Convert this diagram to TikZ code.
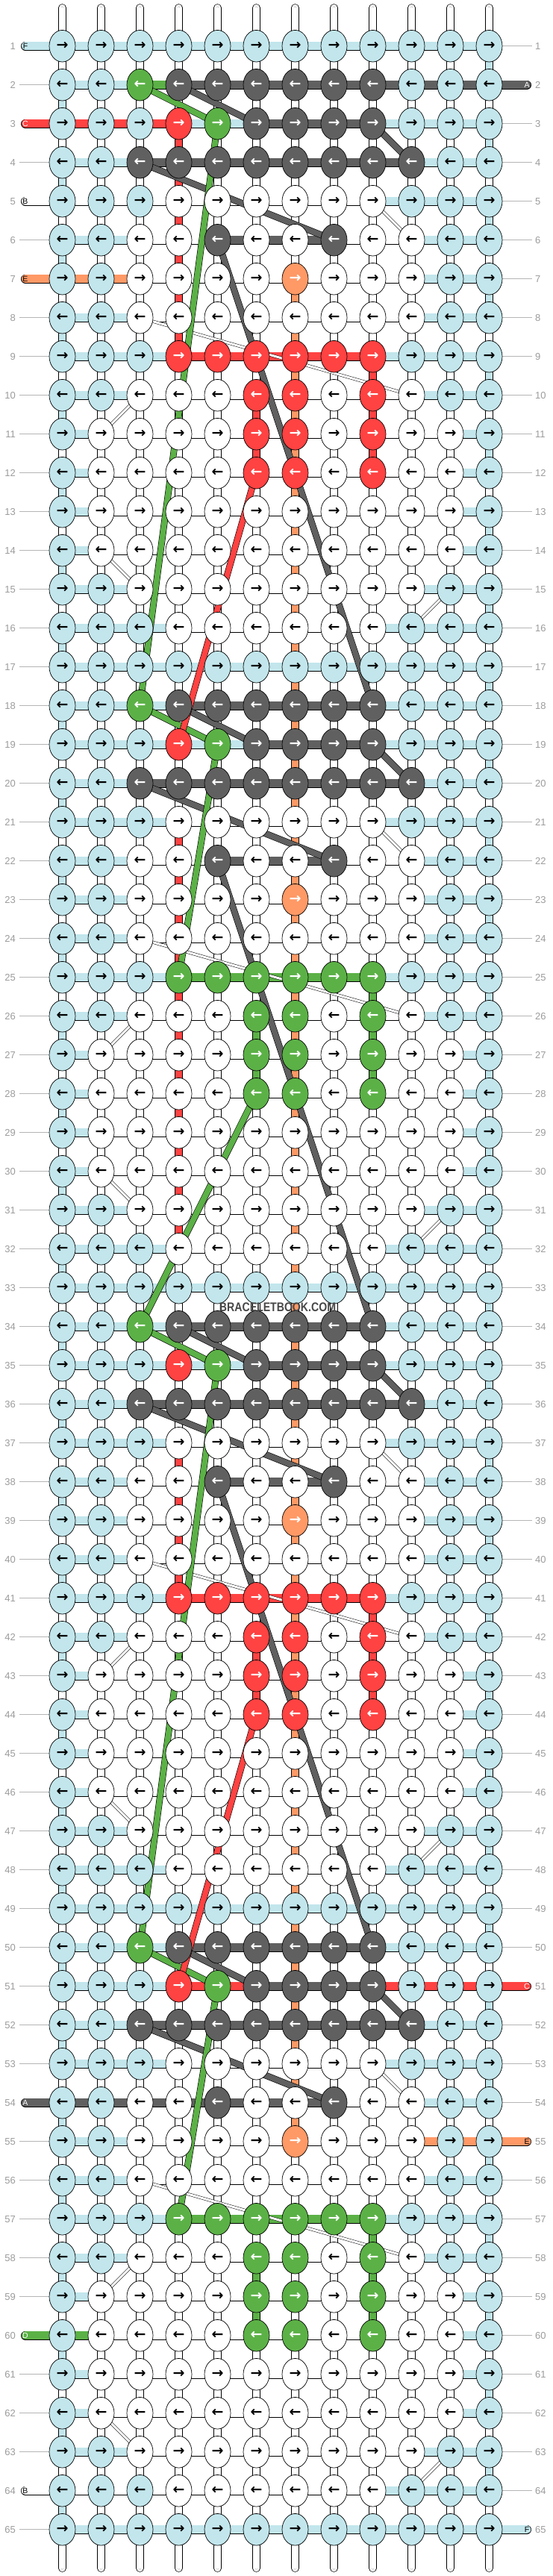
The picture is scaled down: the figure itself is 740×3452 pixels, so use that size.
\documentclass[tikz,border=0pt]{standalone}
\usepackage{fontspec}
\setmainfont{Liberation Sans}
\newfontfamily\arrfont{DejaVu Sans}
\usetikzlibrary{shapes.geometric}
\definecolor{cb}{HTML}{C2E6EC}
\definecolor{cw}{HTML}{FFFFFF}
\definecolor{cg}{HTML}{606060}
\definecolor{cr}{HTML}{FF4242}
\definecolor{cn}{HTML}{5BB146}
\definecolor{co}{HTML}{FF9966}
\definecolor{lab}{HTML}{9C9C9C}
\pgfdeclarelayer{bglayer}
\pgfdeclarelayer{linklayer}
\pgfdeclarelayer{bandlayer}
\pgfdeclarelayer{toplayer}
\pgfsetlayers{bglayer,linklayer,bandlayer,main,toplayer}
\tikzset{
 knot/.style={ellipse, draw=black, line width=0.7pt, minimum width=35pt, minimum height=42.6pt, inner sep=0pt, font=\arrfont\bfseries\fontsize{19}{19}\selectfont},
 kb/.style={fill=cb,text=black},
 kw/.style={fill=white,text=black},
 kg/.style={fill=cg,text=white},
 kr/.style={fill=cr,text=white},
 kn/.style={fill=cn,text=white},
 ko/.style={fill=co,text=white},
 hlink/.style={draw=black, line width=0.7pt, double distance=10.6pt},
 vlink/.style={draw=black, line width=0.7pt, double distance=9.2pt},
 warpin/.style={draw=gray!70, line width=0.45pt, double=white, double distance=3pt},
 band/.style={draw=black, line width=0.6pt, double distance=7.6pt},
 thinband/.style={draw=black, line width=0.5pt, double=white, double distance=3pt},
 rownum/.style={text=lab, font=\fontsize{13}{13}\selectfont, inner sep=0pt},
 edgelbl/.style={font=\fontsize{10.5}{10.5}\selectfont, inner sep=0pt},
 greyline/.style={draw=lab!75, line width=0.8pt},
}
\newcommand\vlinkc[3]{\pgfmathtruncatemacro\rn{#1+1}\draw[vlink,double=c#3] (k-#1-#2.center) -- (k-\rn-#2.center);}
\def\rowdata{%
1/{b,b,b,b,b,b,b,b,b,b,b,b}/{b,b,b,b,b,b,b,b,b,b,b},%
2/{b,b,n,g,g,g,g,g,g,b,b,b}/{b,b,n,g,g,g,g,g,g,g,g},%
3/{b,b,b,r,n,g,g,g,g,b,b,b}/{r,r,r,b,b,g,g,g,b,b,b},%
4/{b,b,g,g,g,g,g,g,g,g,b,b}/{b,b,g,g,g,g,g,g,g,b,b},%
5/{b,b,b,w,w,w,w,w,w,b,b,b}/{w,w,w,w,w,w,w,w,b,b,b},%
6/{b,b,w,w,g,w,w,g,w,w,b,b}/{b,b,w,w,g,g,g,w,w,b,b},%
7/{b,b,w,w,w,w,o,w,w,w,b,b}/{o,o,w,w,w,w,w,w,w,b,b},%
8/{b,b,w,w,w,w,w,w,w,w,b,b}/{b,b,w,w,w,w,w,w,w,b,b},%
9/{b,b,b,r,r,r,r,r,r,b,b,b}/{b,b,b,r,r,r,r,r,b,b,b},%
10/{b,b,w,w,w,r,r,w,r,w,b,b}/{b,b,w,w,w,w,w,w,w,b,b},%
11/{b,w,w,w,w,r,r,w,r,w,w,b}/{b,w,w,w,w,w,w,w,w,w,b},%
12/{b,w,w,w,w,r,r,w,r,w,w,b}/{b,w,w,w,w,w,w,w,w,w,b},%
13/{b,w,w,w,w,w,w,w,w,w,w,b}/{b,w,w,w,w,w,w,w,w,w,b},%
14/{b,w,w,w,w,w,w,w,w,w,w,b}/{b,w,w,w,w,w,w,w,w,w,b},%
15/{b,b,w,w,w,w,w,w,w,w,b,b}/{b,b,w,w,w,w,w,w,w,b,b},%
16/{b,b,b,w,w,w,w,w,w,b,b,b}/{b,b,b,w,w,w,w,w,b,b,b},%
17/{b,b,b,b,b,b,b,b,b,b,b,b}/{b,b,b,b,b,b,b,b,b,b,b},%
18/{b,b,n,g,g,g,g,g,g,b,b,b}/{b,b,b,g,g,g,g,g,b,b,b},%
19/{b,b,b,r,n,g,g,g,g,b,b,b}/{b,b,b,b,b,g,g,g,b,b,b},%
20/{b,b,g,g,g,g,g,g,g,g,b,b}/{b,b,g,g,g,g,g,g,g,b,b},%
21/{b,b,b,w,w,w,w,w,w,b,b,b}/{b,b,b,w,w,w,w,w,b,b,b},%
22/{b,b,w,w,g,w,w,g,w,w,b,b}/{b,b,w,w,g,g,g,w,w,b,b},%
23/{b,b,w,w,w,w,o,w,w,w,b,b}/{b,b,w,w,w,w,w,w,w,b,b},%
24/{b,b,w,w,w,w,w,w,w,w,b,b}/{b,b,w,w,w,w,w,w,w,b,b},%
25/{b,b,b,n,n,n,n,n,n,b,b,b}/{b,b,b,n,n,n,n,n,b,b,b},%
26/{b,b,w,w,w,n,n,w,n,w,b,b}/{b,b,w,w,w,w,w,w,w,b,b},%
27/{b,w,w,w,w,n,n,w,n,w,w,b}/{b,w,w,w,w,w,w,w,w,w,b},%
28/{b,w,w,w,w,n,n,w,n,w,w,b}/{b,w,w,w,w,w,w,w,w,w,b},%
29/{b,w,w,w,w,w,w,w,w,w,w,b}/{b,w,w,w,w,w,w,w,w,w,b},%
30/{b,w,w,w,w,w,w,w,w,w,w,b}/{b,w,w,w,w,w,w,w,w,w,b},%
31/{b,b,w,w,w,w,w,w,w,w,b,b}/{b,b,w,w,w,w,w,w,w,b,b},%
32/{b,b,b,w,w,w,w,w,w,b,b,b}/{b,b,b,w,w,w,w,w,b,b,b},%
33/{b,b,b,b,b,b,b,b,b,b,b,b}/{b,b,b,b,b,b,b,b,b,b,b},%
34/{b,b,n,g,g,g,g,g,g,b,b,b}/{b,b,b,g,g,g,g,g,b,b,b},%
35/{b,b,b,r,n,g,g,g,g,b,b,b}/{b,b,b,b,b,g,g,g,b,b,b},%
36/{b,b,g,g,g,g,g,g,g,g,b,b}/{b,b,g,g,g,g,g,g,g,b,b},%
37/{b,b,b,w,w,w,w,w,w,b,b,b}/{b,b,b,w,w,w,w,w,b,b,b},%
38/{b,b,w,w,g,w,w,g,w,w,b,b}/{b,b,w,w,g,g,g,w,w,b,b},%
39/{b,b,w,w,w,w,o,w,w,w,b,b}/{b,b,w,w,w,w,w,w,w,b,b},%
40/{b,b,w,w,w,w,w,w,w,w,b,b}/{b,b,w,w,w,w,w,w,w,b,b},%
41/{b,b,b,r,r,r,r,r,r,b,b,b}/{b,b,b,r,r,r,r,r,b,b,b},%
42/{b,b,w,w,w,r,r,w,r,w,b,b}/{b,b,w,w,w,w,w,w,w,b,b},%
43/{b,w,w,w,w,r,r,w,r,w,w,b}/{b,w,w,w,w,w,w,w,w,w,b},%
44/{b,w,w,w,w,r,r,w,r,w,w,b}/{b,w,w,w,w,w,w,w,w,w,b},%
45/{b,w,w,w,w,w,w,w,w,w,w,b}/{b,w,w,w,w,w,w,w,w,w,b},%
46/{b,w,w,w,w,w,w,w,w,w,w,b}/{b,w,w,w,w,w,w,w,w,w,b},%
47/{b,b,w,w,w,w,w,w,w,w,b,b}/{b,b,w,w,w,w,w,w,w,b,b},%
48/{b,b,b,w,w,w,w,w,w,b,b,b}/{b,b,b,w,w,w,w,w,b,b,b},%
49/{b,b,b,b,b,b,b,b,b,b,b,b}/{b,b,b,b,b,b,b,b,b,b,b},%
50/{b,b,n,g,g,g,g,g,g,b,b,b}/{b,b,b,g,g,g,g,g,b,b,b},%
51/{b,b,b,r,n,g,g,g,g,b,b,b}/{b,b,b,r,r,g,g,g,r,r,r},%
52/{b,b,g,g,g,g,g,g,g,g,b,b}/{b,b,g,g,g,g,g,g,g,b,b},%
53/{b,b,b,w,w,w,w,w,w,b,b,b}/{b,b,b,w,w,w,w,w,b,b,b},%
54/{b,b,w,w,g,w,w,g,w,w,b,b}/{g,g,g,g,g,g,g,w,w,b,b},%
55/{b,b,w,w,w,w,o,w,w,w,b,b}/{b,b,w,w,w,w,w,w,w,o,o},%
56/{b,b,w,w,w,w,w,w,w,w,b,b}/{b,b,w,w,w,w,w,w,w,b,b},%
57/{b,b,b,n,n,n,n,n,n,b,b,b}/{b,b,b,n,n,n,n,n,b,b,b},%
58/{b,b,w,w,w,n,n,w,n,w,b,b}/{b,b,w,w,w,w,w,w,w,b,b},%
59/{b,w,w,w,w,n,n,w,n,w,w,b}/{b,w,w,w,w,w,w,w,w,w,b},%
60/{b,w,w,w,w,n,n,w,n,w,w,b}/{n,w,w,w,w,w,w,w,w,w,b},%
61/{b,w,w,w,w,w,w,w,w,w,w,b}/{b,w,w,w,w,w,w,w,w,w,b},%
62/{b,w,w,w,w,w,w,w,w,w,w,b}/{b,w,w,w,w,w,w,w,w,w,b},%
63/{b,b,w,w,w,w,w,w,w,w,b,b}/{b,b,w,w,w,w,w,w,w,b,b},%
64/{b,b,b,w,w,w,w,w,w,b,b,b}/{w,w,w,w,w,w,w,w,b,b,b},%
65/{b,b,b,b,b,b,b,b,b,b,b,b}/{b,b,b,b,b,b,b,b,b,b,b}%
}
\begin{document}
\begin{tikzpicture}[x=1pt,y=-1pt]
\useasboundingbox (0,0) rectangle (740,3452);
\begin{pgfonlayer}{bglayer}
\fill[white] (0,0) rectangle (740,3452);
\end{pgfonlayer}
% knots
\foreach \rw/\kst/\lst in \rowdata {%
  \pgfmathsetmacro\yy{61.7+52*(\rw-1)}%
  \foreach \cc [count=\ci] in \kst {%
    \node[knot,k\cc] (k-\rw-\ci) at ({83.5+52*(\ci-1)},\yy) {\ifodd\rw →\else ←\fi};
  }%
}
\begin{pgfonlayer}{linklayer}
% warp strands at top and bottom
\foreach \ci in {1,...,12} {%
  \coordinate (t-\ci) at ({83.5+52*(\ci-1)},10.5);
  \coordinate (b-\ci) at ({83.5+52*(\ci-1)},3441.5);
  \draw[vlink,double=white,line cap=round] (t-\ci) -- (k-1-\ci.center);
  \draw[warpin,line cap=round] (t-\ci) -- (k-1-\ci.center);
  \draw[vlink,double=white,line cap=round] (b-\ci) -- (k-65-\ci.center);
  \draw[warpin,line cap=round] (b-\ci) -- (k-65-\ci.center);
}
% vertical warp links
\foreach \rw in {1,...,64} {%
  \pgfmathtruncatemacro\rn{\rw+1}%
  \foreach \ci in {1,...,12} {%
    \draw[vlink,double=white] (k-\rw-\ci.center) -- (k-\rn-\ci.center);
    \draw[warpin] (k-\rw-\ci.center) -- (k-\rn-\ci.center);
  }%
}
% coloured vertical links
\foreach \rw in {2,4,...,64} {\vlinkc{\rw}{1}{b}}
\foreach \rw in {1,3,...,63} {\vlinkc{\rw}{12}{b}}
\foreach \rw in {7,...,54} {\vlinkc{\rw}{7}{o}}
\foreach \rw in {3,...,8} {\vlinkc{\rw}{4}{r}}
\foreach \rw in {21,...,31} {\vlinkc{\rw}{4}{r}}
\foreach \rw in {37,...,40} {\vlinkc{\rw}{4}{r}}
\foreach \rw/\col in {9/r,10/r,11/r,25/n,26/n,27/n,41/r,42/r,43/r,57/n,58/n,59/n} {\vlinkc{\rw}{9}{\col}}
\foreach \rw/\col in {10/r,11/r,26/n,27/n,42/r,43/r,58/n,59/n} {\vlinkc{\rw}{6}{\col}}
% horizontal links
\foreach \rw/\kst/\lst in \rowdata {%
  \foreach \lc [count=\ci] in \lst {%
    \pgfmathtruncatemacro\cj{\ci+1}%
    \draw[hlink,double=c\lc] (k-\rw-\ci.center) -- (k-\rw-\cj.center);
  }%
}
% row numbers and grey lines
\foreach \rw in {1,...,65} {%
  \pgfmathsetmacro\yy{61.7+52*(\rw-1)}%
  \node[rownum,anchor=east] (nl-\rw) at (21,\yy) {\rw};
  \node[rownum,anchor=west] (nr-\rw) at (717,\yy) {\rw};
  \coordinate (gl-\rw) at (26,\yy);
  \coordinate (gr-\rw) at (713,\yy);
  \pgfmathtruncatemacro\hasl{(\rw==1)||(\rw==3)||(\rw==5)||(\rw==7)||(\rw==54)||(\rw==60)||(\rw==64)}%
  \pgfmathtruncatemacro\hasr{(\rw==2)||(\rw==51)||(\rw==55)||(\rw==65)}%
  \ifnum\hasl=0 \draw[greyline] (gl-\rw) -- (k-\rw-1.west);\fi
  \ifnum\hasr=0 \draw[greyline] (k-\rw-12.east) -- (gr-\rw);\fi
}
% entering / leaving threads
\foreach \rw/\col/\lt/\tc in {1/b/F/black,3/r/C/white,5/w/B/black,7/o/E/black,54/g/A/white,60/n/D/white,64/w/B/black} {%
  \pgfmathsetmacro\yy{61.7+52*(\rw-1)}%
  \coordinate (sl-\rw) at (34,\yy);
  \draw[hlink,double=c\col,line cap=round] (sl-\rw) -- (k-\rw-1.center);
  \node[edgelbl,text=\tc] (ll-\rw) at (sl-\rw) {\lt};
}
\foreach \rw/\col/\lt/\tc in {2/g/A/white,51/r/C/white,55/o/E/black,65/b/F/black} {%
  \pgfmathsetmacro\yy{61.7+52*(\rw-1)}%
  \coordinate (sr-\rw) at (706,\yy);
  \draw[hlink,double=c\col,line cap=round] (sr-\rw) -- (k-\rw-12.center);
  \node[edgelbl,text=\tc] (lr-\rw) at (sr-\rw) {\lt};
}
\end{pgfonlayer}
\begin{pgfonlayer}{bandlayer}
% thin white carried threads
\foreach \rA/\cA/\rB/\cB in {5/9/6/10,8/3/10/10,10/3/11/2,14/2/15/3,15/11/16/10,
  21/9/22/10,24/3/26/10,26/3/27/2,30/2/31/3,31/11/32/10,
  37/9/38/10,40/3/42/10,42/3/43/2,46/2/47/3,47/11/48/10,
  53/9/54/10,56/3/58/10,58/3/59/2,62/2/63/3,63/11/64/10} {%
  \draw[thinband] (k-\rA-\cA.center) -- (k-\rB-\cB.center);
}
% thick carried threads
\foreach \rA/\cA/\rB/\cB/\col in {2/4/3/6/g,3/9/4/10/g,4/3/6/8/g,6/5/18/9/g,
  18/4/19/6/g,19/9/20/10/g,20/3/22/8/g,22/5/34/9/g,
  34/4/35/6/g,35/9/36/10/g,36/3/38/8/g,38/5/50/9/g,
  50/4/51/6/g,51/9/52/10/g,52/3/54/8/g,
  2/3/3/5/n,3/5/18/3/n,18/3/19/5/n,19/5/25/4/n,28/6/34/3/n,34/3/35/5/n,35/5/50/3/n,50/3/51/5/n,51/5/57/4/n,
  12/6/19/4/r,44/6/51/4/r} {%
  \draw[band,double=c\col] (k-\rA-\cA.center) -- (k-\rB-\cB.center);
}
\end{pgfonlayer}
\begin{pgfonlayer}{toplayer}
\node[font=\bfseries\fontsize{16.8}{17}\selectfont, text=black!72, xscale=0.84, inner sep=0pt] (wm) at (372,1752) {BRACELETBOOK.COM};
\end{pgfonlayer}
\end{tikzpicture}
\end{document}
